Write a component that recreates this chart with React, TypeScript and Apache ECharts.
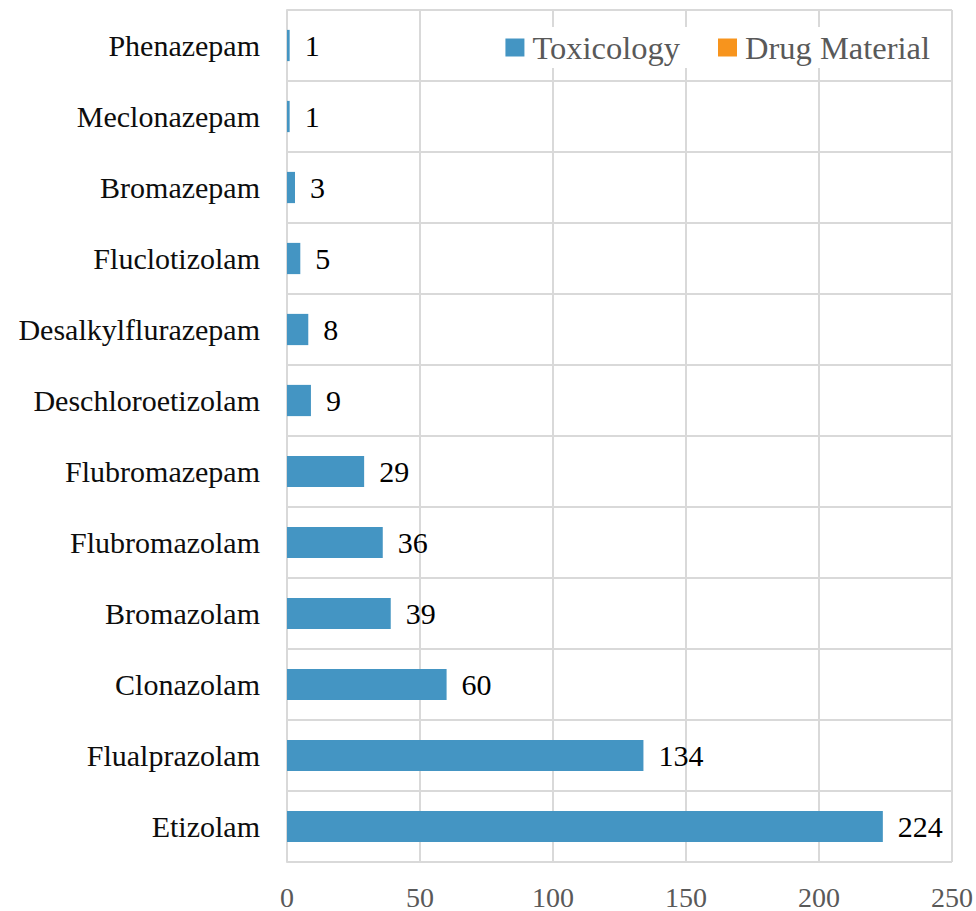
import React, { useEffect, useRef } from "react";
import * as echarts from "echarts";

const categories = [
  "Etizolam",
  "Flualprazolam",
  "Clonazolam",
  "Bromazolam",
  "Flubromazolam",
  "Flubromazepam",
  "Deschloroetizolam",
  "Desalkylflurazepam",
  "Fluclotizolam",
  "Bromazepam",
  "Meclonazepam",
  "Phenazepam",
];
const toxicology = [224, 134, 60, 39, 36, 29, 9, 8, 5, 3, 1, 1];
const drugMaterial = [0, 0, 0, 0, 0, 0, 0, 0, 0, 0, 0, 0];
const xTicks = { min: 0, max: 250, interval: 50 };

export default function App() {
  const ref = useRef<HTMLDivElement>(null);
  useEffect(() => {
    if (!ref.current) return;
    const chart = echarts.init(ref.current, null, { renderer: "svg" });
    const font = "'Liberation Serif', 'Times New Roman', serif";
    chart.setOption({
      animation: false,
      grid: { left: 287, right: 23, top: 10, bottom: 49, containLabel: false },
      legend: {
        right: 42,
        top: 27,
        itemWidth: 19,
        itemHeight: 18,
        itemGap: 38,
        backgroundColor: "#ffffff",
        padding: [4, 4, 4, 4],
        icon: "rect",
        textStyle: { fontFamily: font, fontSize: 32.5, color: "#595959", padding: [0, 0, 0, 3] },
        data: ["Toxicology", "Drug Material"],
      },
      xAxis: {
        type: "value",
        min: xTicks.min,
        max: xTicks.max,
        interval: xTicks.interval,
        axisLine: { show: false },
        axisTick: { show: false },
        splitLine: { show: true, lineStyle: { color: "#d9d9d9", width: 2 } },
        axisLabel: { fontFamily: font, fontSize: 28, color: "#595959", margin: 21 },
      },
      yAxis: {
        type: "category",
        data: categories,
        axisLine: { show: true, lineStyle: { color: "#d9d9d9", width: 2 } },
        axisTick: { show: false },
        splitLine: { show: true, lineStyle: { color: "#d9d9d9", width: 2 } },
        axisLabel: { fontFamily: font, fontSize: 30, color: "#0d0d0d", margin: 27 },
      },
      series: [
        {
          name: "Toxicology",
          type: "bar",
          stack: "total",
          data: toxicology,
          barWidth: "44%",
          itemStyle: { color: "#4495c3" },
          label: {
            show: true,
            position: "right",
            distance: 15,
            fontFamily: font,
            fontSize: 30,
            color: "#000000",
          },
        },
        {
          name: "Drug Material",
          type: "bar",
          stack: "total",
          data: drugMaterial,
          itemStyle: { color: "#f7941d" },
          label: { show: false },
        },
      ],
    });
    return () => chart.dispose();
  }, []);
  return (
    <div
      ref={ref}
      style={{ position: "fixed", left: 0, top: 0, width: 976, height: 911, background: "#fff" }}
    />
  );
}
